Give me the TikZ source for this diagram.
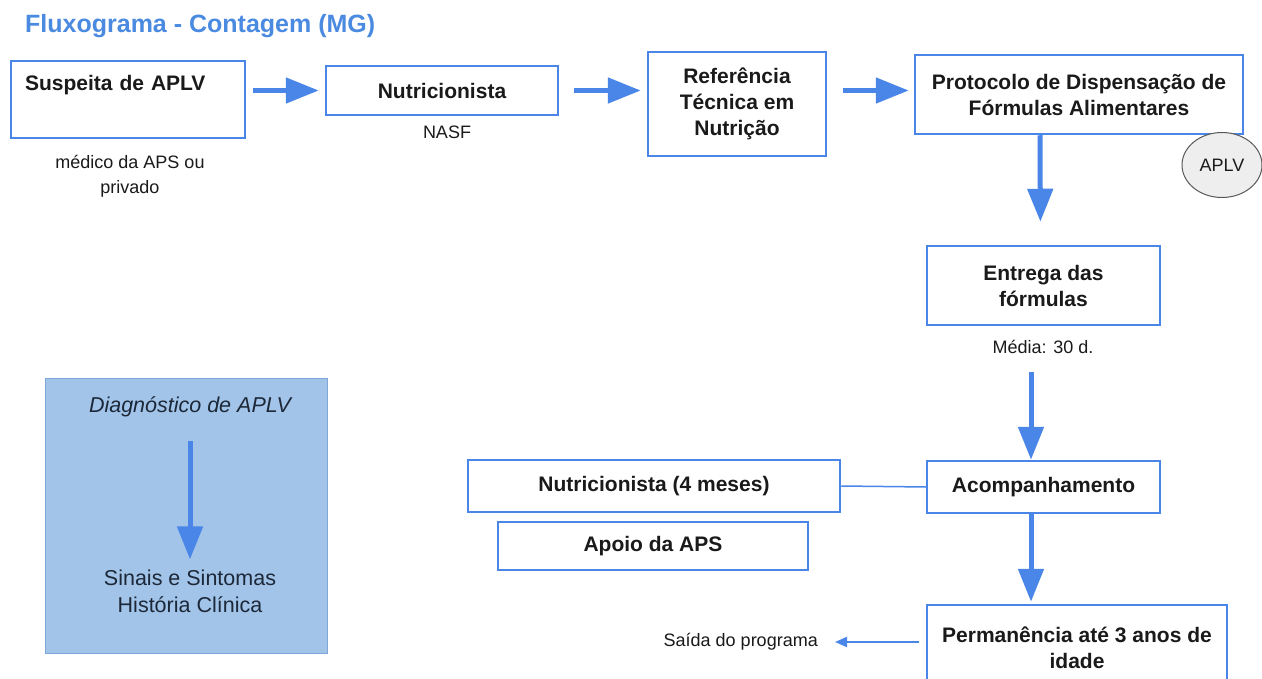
\documentclass[tikz,border=0pt]{standalone}
\usepackage{fontspec}
\setmainfont{Liberation Sans}
\usetikzlibrary{arrows.meta,shapes.geometric}
\definecolor{flowblue}{HTML}{4A86E8}
\definecolor{titleblue}{HTML}{4A8AE0}
\definecolor{diagfill}{HTML}{A2C4E9}
\definecolor{diagedge}{HTML}{7EA6D8}
\definecolor{diagink}{HTML}{1C2838}
\definecolor{ink}{HTML}{1A1A1A}
\definecolor{bubble}{HTML}{EEEEEE}
\newcommand{\boldtext}{\fontsize{21}{26}\selectfont\bfseries}
\newcommand{\plaintext}{\fontsize{18}{25}\selectfont}
\newcommand{\paneltext}{\fontsize{21.5}{27}\selectfont}
\begin{document}
\begin{tikzpicture}[x=1pt,y=-1pt,
  stepbox/.style={draw=flowblue,line width=2.5pt,fill=white,inner sep=0pt,
    align=center,font=\boldtext,text=ink},
  note/.style={inner sep=0pt,align=center,font=\plaintext,text=ink},
  paneltxt/.style={inner sep=0pt,align=center,font=\paneltext,text=diagink},
  flow/.style={draw=flowblue,line width=5pt,-{Triangle[length=33pt,width=25pt]}},
  thinlink/.style={draw=flowblue,line width=1.5pt},
  exitarrow/.style={draw=flowblue,line width=2pt,-{Triangle[length=12pt,width=10pt]}}]
\path[use as bounding box,clip] (0,0) rectangle (1262,679);
\fill[white] (0,0) rectangle (1262,679);

% title
\node[anchor=base west,inner sep=0pt,font=\fontsize{25}{29}\selectfont\bfseries,
  text=titleblue] (title) at (25,33) {Fluxograma - Contagem (MG)};

% top row
\node[stepbox,minimum width=234pt,minimum height=77pt,text width=206pt,align=left]
  (susp) at (128,99.5) {Suspeita de APLV\\\strut};
\node[note] (suspnote) at (130,176) {médico da APS ou\\privado};
\node[stepbox,minimum width=232pt,minimum height=49pt] (nut) at (442,90.5) {Nutricionista};
\node[note] (nasf) at (447,132) {NASF};
\node[stepbox,minimum width=178pt,minimum height=104pt] (ref) at (737,104)
  {Referência\\Técnica em\\Nutrição};
\node[stepbox,minimum width=328pt,minimum height=79pt] (prot) at (1079,94.5)
  {Protocolo de Dispensação de\\Fórmulas Alimentares};
\node[ellipse,draw=gray!70!black,fill=bubble,line width=1pt,minimum width=80pt,
  minimum height=65pt,inner sep=0pt,font=\plaintext,text=ink] (aplv) at (1222,165) {APLV};

% right column
\node[stepbox,minimum width=233pt,minimum height=79pt] (entr) at (1043.5,285.5)
  {Entrega das\\fórmulas};
\node[note] (media) at (1043,347) {Média: 30 d.};
\node[stepbox,minimum width=233pt,minimum height=52pt] (acomp) at (1043.5,487) {Acompanhamento};
\node[stepbox,minimum width=372pt,minimum height=52pt] (nut4) at (654,486)
  {Nutricionista (4 meses)};
\node[stepbox,minimum width=310pt,minimum height=48pt] (apoio) at (653,546) {Apoio da APS};
\node[stepbox,minimum width=300pt,minimum height=86pt] (perm) at (1077,648)
  {Permanência até 3 anos de\\idade};
\node[note,anchor=east] (exit) at (818,642) {Saída do programa};

% diagnosis panel
\node[draw=diagedge,fill=diagfill,line width=1pt,minimum width=282pt,
  minimum height=275pt,inner sep=0pt] (diag) at (186,515.5) {};
\node[paneltxt,font=\paneltext\itshape] (diagtitle) at (190,407) {Diagnóstico de APLV};
\node[paneltxt] (signs) at (190,591) {Sinais e Sintomas\\História Clínica};

% connectors
\draw[flow,shorten <=7pt,shorten >=6pt] (susp.east |- nut.west) -- (nut.west);
\draw[flow,shorten <=15pt,shorten >=6pt] (nut.east) -- (nut.east -| ref.west);
\draw[flow,shorten <=16pt,shorten >=5pt] (ref.east |- nut.east) -- (prot.west |- nut.east);
\draw[flow,shorten >=23pt] ([xshift=-39pt]prot.south) -- ([xshift=-3pt]entr.north);
\draw[flow,shorten <=46pt] ([xshift=-12.5pt]entr.south) -- ([xshift=-12.5pt]acomp.north);
\draw[flow,shorten >=2pt] ([xshift=-12.5pt]acomp.south) -- ([xshift=-46pt]perm.north);
\draw[thinlink] (nut4.east) -- (acomp.west);
\draw[exitarrow,shorten <=7pt,shorten >=17pt] (perm.west |- exit.east) -- (exit.east);
\draw[flow] ([yshift=-24pt]diagtitle.south) -- ([yshift=10pt]signs.north);
\end{tikzpicture}
\end{document}
